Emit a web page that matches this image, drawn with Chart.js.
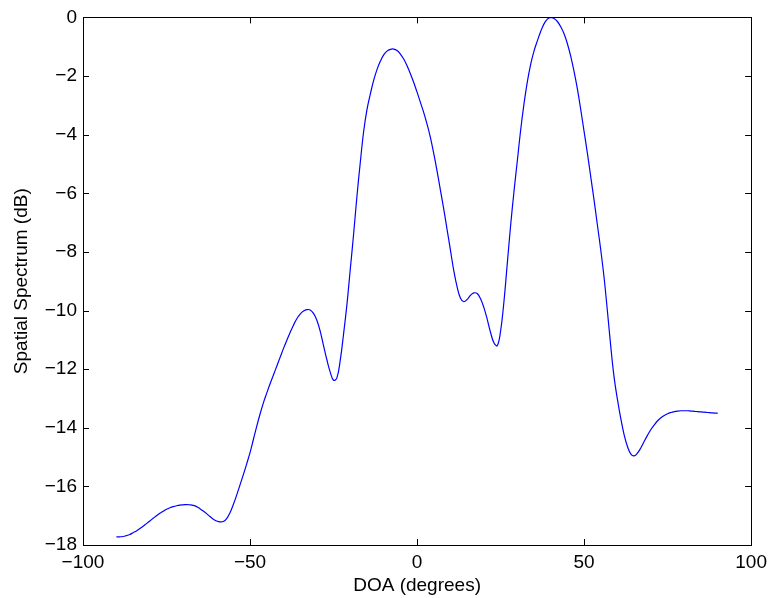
<!DOCTYPE html>
<html>
<head>
<meta charset="utf-8">
<script src="https://cdn.jsdelivr.net/npm/chart.js@4"></script>
<style>
html,body{margin:0;padding:0;background:#fff;}
#wrap{width:773px;height:598px;position:relative;}
</style>
</head>
<body>
<div id="wrap"><canvas id="c" width="773" height="598"></canvas></div>
<script>
const doa = [-90,-89,-88,-87,-86,-85,-84,-83,-82,-81,-80,-79,-78,-77,-76,-75,-74,-73,-72,-71,-70,-69,-68,-67,-66,-65,-64,-63,-62,-61,-60,-59,-58,-57,-56,-55,-54,-53,-52,-51,-50,-49,-48,-47,-46,-45,-44,-43,-42,-41,-40,-39,-38,-37,-36,-35,-34,-33,-32,-31,-30,-29,-28,-27,-26,-25,-24,-23,-22,-21,-20,-19,-18,-17,-16,-15,-14,-13,-12,-11,-10,-9,-8,-7,-6,-5,-4,-3,-2,-1,0,1,2,3,4,5,6,7,8,9,10,11,12,13,14,15,16,17,18,19,20,21,22,23,24,25,26,27,28,29,30,31,32,33,34,35,36,37,38,39,40,41,42,43,44,45,46,47,48,49,50,51,52,53,54,55,56,57,58,59,60,61,62,63,64,65,66,67,68,69,70,71,72,73,74,75,76,77,78,79,80,81,82,83,84,85,86,87,88,89,90];
const spectrum = [
-17.72,-17.72,-17.71,-17.68,-17.64,-17.58,-17.52,-17.44,-17.36,-17.27,
-17.18,-17.09,-17.00,-16.92,-16.85,-16.78,-16.73,-16.69,-16.66,-16.64,
-16.63,-16.62,-16.63,-16.65,-16.69,-16.76,-16.84,-16.93,-17.03,-17.12,
-17.18,-17.21,-17.20,-17.10,-16.90,-16.62,-16.30,-15.95,-15.60,-15.23,
-14.85,-14.40,-13.95,-13.53,-13.15,-12.82,-12.50,-12.20,-11.90,-11.60,
-11.30,-11.02,-10.75,-10.50,-10.28,-10.12,-10.02,-9.97,-9.98,-10.10,
-10.33,-10.70,-11.20,-11.68,-12.10,-12.38,-12.30,-11.70,-10.80,-9.80,
-8.60,-7.40,-6.10,-4.95,-3.90,-3.15,-2.62,-2.15,-1.78,-1.50,
-1.28,-1.15,-1.09,-1.08,-1.13,-1.25,-1.42,-1.65,-1.92,-2.22,
-2.55,-2.90,-3.25,-3.65,-4.10,-4.65,-5.25,-5.90,-6.55,-7.25,
-7.95,-8.65,-9.20,-9.58,-9.70,-9.62,-9.48,-9.40,-9.42,-9.60,
-9.90,-10.30,-10.75,-11.10,-11.20,-10.70,-9.70,-8.40,-7.10,-5.95,
-4.90,-3.85,-2.95,-2.20,-1.60,-1.15,-0.80,-0.48,-0.22,-0.06,
0.00,-0.04,-0.14,-0.32,-0.56,-0.90,-1.33,-1.85,-2.45,-3.15,
-3.90,-4.65,-5.45,-6.25,-7.10,-7.95,-8.90,-10.05,-11.25,-12.30,
-13.05,-13.70,-14.25,-14.65,-14.90,-14.96,-14.86,-14.68,-14.46,-14.25,
-14.06,-13.90,-13.76,-13.66,-13.58,-13.52,-13.48,-13.45,-13.43,-13.42,
-13.42,-13.42,-13.43,-13.44,-13.45,-13.46,-13.47,-13.48,-13.49,-13.50,
-13.50];
const xTicks = [-100,-50,0,50,100];
const yTicks = [-18,-16,-14,-12,-10,-8,-6,-4,-2,0];
const xTitle = 'DOA (degrees)';
const yTitle = 'Spatial Spectrum (dB)';

const FONT = 'Liberation Sans, Arial, Helvetica, sans-serif';
const fmt = v => String(v).replace('-', '\u2212');

const boxTicks = {
  id: 'boxTicks',
  afterDatasetsDraw(chart) {
    const {ctx, chartArea: a, scales} = chart;
    const L = 6;
    ctx.save();
    ctx.strokeStyle = '#000';
    ctx.lineWidth = 1;
    ctx.beginPath();
    xTicks.forEach(v => {
      const x = Math.round(scales.x.getPixelForValue(v)) + 0.5;
      ctx.moveTo(x, a.bottom); ctx.lineTo(x, a.bottom - L);
      ctx.moveTo(x, a.top); ctx.lineTo(x, a.top + L);
    });
    yTicks.forEach(v => {
      const y = Math.round(scales.y.getPixelForValue(v)) + 0.5;
      ctx.moveTo(a.left, y); ctx.lineTo(a.left + L, y);
      ctx.moveTo(a.right, y); ctx.lineTo(a.right - L, y);
    });
    ctx.stroke();
    ctx.strokeRect(Math.round(a.left) + 0.5, Math.round(a.top) + 0.5, Math.round(a.right - a.left), Math.round(a.bottom - a.top));
    ctx.restore();
  }
};

new Chart(document.getElementById('c'), {
  type: 'line',
  data: {
    labels: doa,
    datasets: [{
      data: doa.map((x, i) => ({x: x, y: spectrum[i]})),
      borderColor: '#0000ff',
      borderWidth: 1.2,
      pointRadius: 0,
      fill: false,
      tension: 0.4
    }]
  },
  options: {
    responsive: false,
    animation: false,
    devicePixelRatio: 1,
    layout: {padding: {top: 15, right: 19, left: 0, bottom: 0}},
    plugins: {legend: {display: false}, tooltip: {enabled: false}},
    scales: {
      x: {
        type: 'linear', min: -100, max: 100,
        afterBuildTicks: s => { s.ticks = xTicks.map(v => ({value: v})); },
        afterFit: s => { s.height = 53; },
        grid: {display: false, drawTicks: false},
        border: {display: false},
        ticks: {color: '#000', font: {family: FONT, size: 19}, padding: 6, maxRotation: 0, callback: v => fmt(v)},
        title: {display: true, text: xTitle, color: '#000', font: {family: FONT, size: 19}, padding: {top: 0, bottom: 1}}
      },
      y: {
        type: 'linear', min: -18, max: 0,
        afterBuildTicks: s => { s.ticks = yTicks.map(v => ({value: v})); },
        afterFit: s => { s.width = 83; },
        grid: {display: false, drawTicks: false},
        border: {display: false},
        ticks: {color: '#000', font: {family: FONT, size: 19}, padding: 6, callback: v => fmt(v)},
        title: {display: true, text: yTitle, color: '#000', font: {family: FONT, size: 19}, padding: {top: 10, bottom: 0}}
      }
    }
  },
  plugins: [boxTicks]
});
</script>
</body>
</html>
